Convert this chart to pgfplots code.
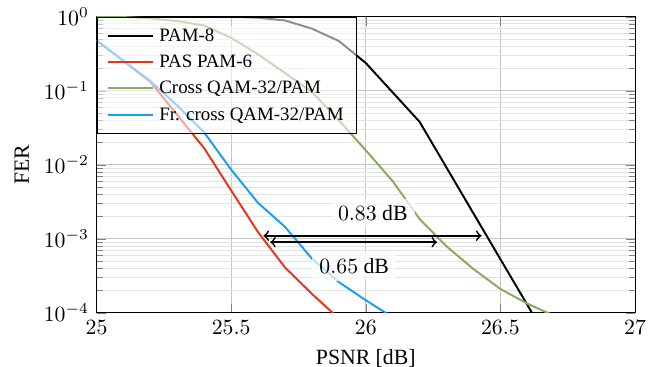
\documentclass[border=0pt]{standalone}
\usepackage{fontspec}
\setmainfont{Liberation Serif}
\usepackage{pgfplots}
\pgfplotsset{compat=1.18}

\definecolor{pasred}{RGB}{232,52,26}
\definecolor{crossgreen}{RGB}{138,170,98}
\definecolor{frblue}{RGB}{26,158,240}

\begin{document}
\begin{tikzpicture}
\begin{semilogyaxis}[
  scale only axis,
  width=247.7pt, height=136.2pt,
  xmin=25, xmax=27, ymin=1e-4, ymax=1,
  xtick={25,25.5,26,26.5,27},
  xlabel={PSNR [dB]}, ylabel={FER},
  label style={font=\fontsize{10}{12}\selectfont},
  tick label style={font=\fontsize{10}{12}\selectfont},
  xmajorgrids, ymajorgrids, yminorgrids,
  major grid style={line width=0.4pt, gray!45},
  minor grid style={line width=0.4pt, gray!22},
  every axis plot/.append style={line width=0.9pt},
  legend cell align=left,
  legend style={at={(0,1)}, anchor=north west, draw=black,
    fill=white, fill opacity=0.55, draw opacity=1, text opacity=1,
    font=\fontsize{8.7}{10}\selectfont, inner xsep=4.8pt, inner ysep=2.8pt,
    nodes={inner sep=1pt, text height=7.5pt, text depth=2.5pt}},
  legend image code/.code={\draw[#1] (0pt,0pt) -- (20.7pt,0pt); \path (22pt,0pt);},
]
% PAM-8
\addplot[black] coordinates {
  (25.0,1) (25.1,1) (25.2,1) (25.3,1) (25.4,0.999) (25.5,0.995)
  (25.6,0.97) (25.7,0.89) (25.8,0.69) (25.9,0.47) (26.0,0.237)
  (26.2,0.038) (26.4,2.2e-3) (26.6,1.28e-4) (26.8,7.3e-6)
};
% PAS PAM-6
\addplot[pasred] coordinates {
  (25.0,0.48) (25.1,0.252) (25.2,0.132) (25.3,0.047) (25.4,0.0167)
  (25.5,4.5e-3) (25.6,1.23e-3) (25.7,4.1e-4) (25.8,1.8e-4) (25.9,8.4e-5)
};
% Cross QAM-32/PAM
\addplot[crossgreen] coordinates {
  (25.0,1) (25.1,0.99) (25.2,0.95) (25.3,0.875) (25.4,0.76) (25.5,0.52)
  (25.6,0.31) (25.7,0.174) (25.8,0.096) (25.9,0.040) (26.0,0.0157)
  (26.1,6.0e-3) (26.2,1.85e-3) (26.3,7.9e-4) (26.4,3.9e-4) (26.5,2.1e-4)
  (26.6,1.33e-4) (26.7,9.1e-5)
};
% Fractional cross QAM-32/PAM
\addplot[frblue] coordinates {
  (25.0,0.48) (25.1,0.255) (25.2,0.135) (25.3,0.063) (25.4,0.0273)
  (25.5,8.6e-3) (25.6,3.05e-3) (25.7,1.45e-3) (25.8,5.4e-4) (25.9,2.6e-4)
  (26.0,1.48e-4) (26.1,8.7e-5)
};
\legend{PAM-8, PAS PAM-6, Cross QAM-32/PAM, Fr. cross QAM-32/PAM}

% SNR gaps at FER around 1e-3
\addplot[black, line width=0.8pt, <->, forget plot] coordinates {(25.62,1.1e-3) (26.43,1.1e-3)};
\addplot[black, line width=0.8pt, <->, forget plot] coordinates {(25.645,9.0e-4) (26.265,9.0e-4)};
\node[fill=white, fill opacity=0.7, text opacity=1, font=\fontsize{10}{12}\selectfont]
  at (axis cs:26.026,2.2e-3) {$0.83$ dB};
\node[fill=white, fill opacity=0.7, text opacity=1, font=\fontsize{10}{12}\selectfont]
  at (axis cs:25.957,4.3e-4) {$0.65$ dB};
\end{semilogyaxis}
\pgfresetboundingbox
\path (current axis.south west) ++(-44.4pt,-24.5pt)
  rectangle ([shift={(10.1pt,7.7pt)}]current axis.north east);
\end{tikzpicture}
\end{document}
